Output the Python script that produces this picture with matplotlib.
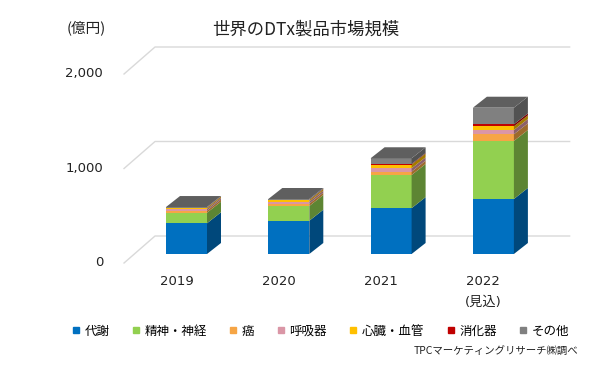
import numpy as np
import matplotlib
matplotlib.use('Agg')
import matplotlib.pyplot as plt
from matplotlib.colors import to_rgb
from matplotlib.lines import Line2D

plt.rcParams['font.family'] = ['DejaVu Sans', 'Noto Sans CJK JP']
JP = ['Noto Sans CJK JP', 'DejaVu Sans']

# ── data (億円) ─────────────────────────────────────────────────────────────
years = ['2019', '2020', '2021', '2022\n(見込)']
series = ['代謝', '精神・神経', '癌', '呼吸器', '心臓・血管', '消化器', 'その他']
metabolic = [325, 352, 485, 582]
mental = [112, 156, 351, 614]
cancer = [22, 25, 35, 71]
respiratory = [18, 22, 36, 45]
cardio = [12, 15, 38, 39]
digestive = [3, 4, 7, 21]
other = [5, 8, 61, 176]
values = [metabolic, mental, cancer, respiratory, cardio, digestive, other]
colors = ['#0070C0', '#92D050', '#F6A545', '#DA96A6', '#FFC000', '#C00000', '#808080']
grid_vals = [0, 1000, 2000]
grid_labels = ['0', '1,000', '2,000']

# ── pixel geometry of the oblique 3D look ──────────────────────────────────
W, H = 600, 368
X0, SX = 186.5, 102.3      # px of first bar centre, px per category
Y0, SY = 254.0, 0.0945     # px of value 0 on the bar front plane, px per unit
FRONT = (-10 / SX, -9 / SY)
BACK = (21 / SX, 18 / SY)
BAR_D = (14 / SX, 11 / SY)
BW = 41 / SX
LEFT, RIGHT = -0.513, 3.54


def shade(c, f):
    return tuple(np.array(to_rgb(c)) * f)


fig = plt.figure(figsize=(W / 100, H / 100), dpi=100)
ax = fig.add_axes([0, 0, 1, 1])
ax.set_xlim(-X0 / SX, (W - X0) / SX)
ax.set_ylim((Y0 - H) / SY, Y0 / SY)
ax.axis('off')

# walls: gridlines on back wall + diagonals on left edge
for g, lab in zip(grid_vals, grid_labels):
    ax.plot([LEFT + FRONT[0], LEFT + BACK[0], RIGHT + BACK[0]],
            [g + FRONT[1], g + BACK[1], g + BACK[1]],
            color='#D9D9D9', lw=1.0, zorder=1)
    ax.text((103 - X0) / SX, g + FRONT[1], lab, ha='right', va='center',
            fontsize=9.5, color='#222222')

# stacked 3D bars
xs = np.arange(len(years))
bottom = np.zeros(len(years))
for vals, c in zip(values, colors):
    v = np.array(vals, float)
    ax.bar(xs, v, BW, bottom=bottom, color=c, lw=0, zorder=3)
    for x, b, t in zip(xs, bottom, bottom + v):
        xr = x + BW / 2
        ax.fill([xr, xr + BAR_D[0], xr + BAR_D[0], xr],
                [b, b + BAR_D[1], t + BAR_D[1], t],
                color=shade(c, 0.64), lw=0, zorder=3)
    bottom = bottom + v

# top faces take the colour of the top segment
for x, t in zip(xs, bottom):
    xl, xr = x - BW / 2, x + BW / 2
    ax.fill([xl, xr, xr + BAR_D[0], xl + BAR_D[0]],
            [t, t, t + BAR_D[1], t + BAR_D[1]],
            color=shade(colors[-1], 0.74), lw=0, zorder=4)

# category labels on the front plane
for x, lab in zip(xs, years):
    ax.text(x + FRONT[0], (Y0 - 275) / SY, lab, ha='center', va='top',
            fontsize=9.5, color='#222222', linespacing=1.75, family=JP[::-1])

ax.text((86 - X0) / SX, (Y0 - 28) / SY, '(億円)', ha='center', va='center',
        fontsize=10.5, family=JP, color='#222222')
ax.text((306 - X0) / SX, (Y0 - 30) / SY, '世界のDTx製品市場規模', ha='center',
        va='center', fontsize=12.5, family=JP, color='#222222')

handles = [Line2D([], [], marker='s', ls='none', ms=5, color=c) for c in colors]
fig.legend(handles, series, loc='center', bbox_to_anchor=(321 / W, 1 - 331 / H),
           ncol=7, frameon=False, prop={'family': JP, 'size': 9},
           handlelength=0.5, handletextpad=0.45, columnspacing=1.85)

fig.text(578 / W, 1 - 352 / H, 'TPCマーケティングリサーチ㈱調べ', ha='right',
         va='center', fontsize=7.5, family=JP, color='#222222')

fig.savefig('out.png', dpi=100)
